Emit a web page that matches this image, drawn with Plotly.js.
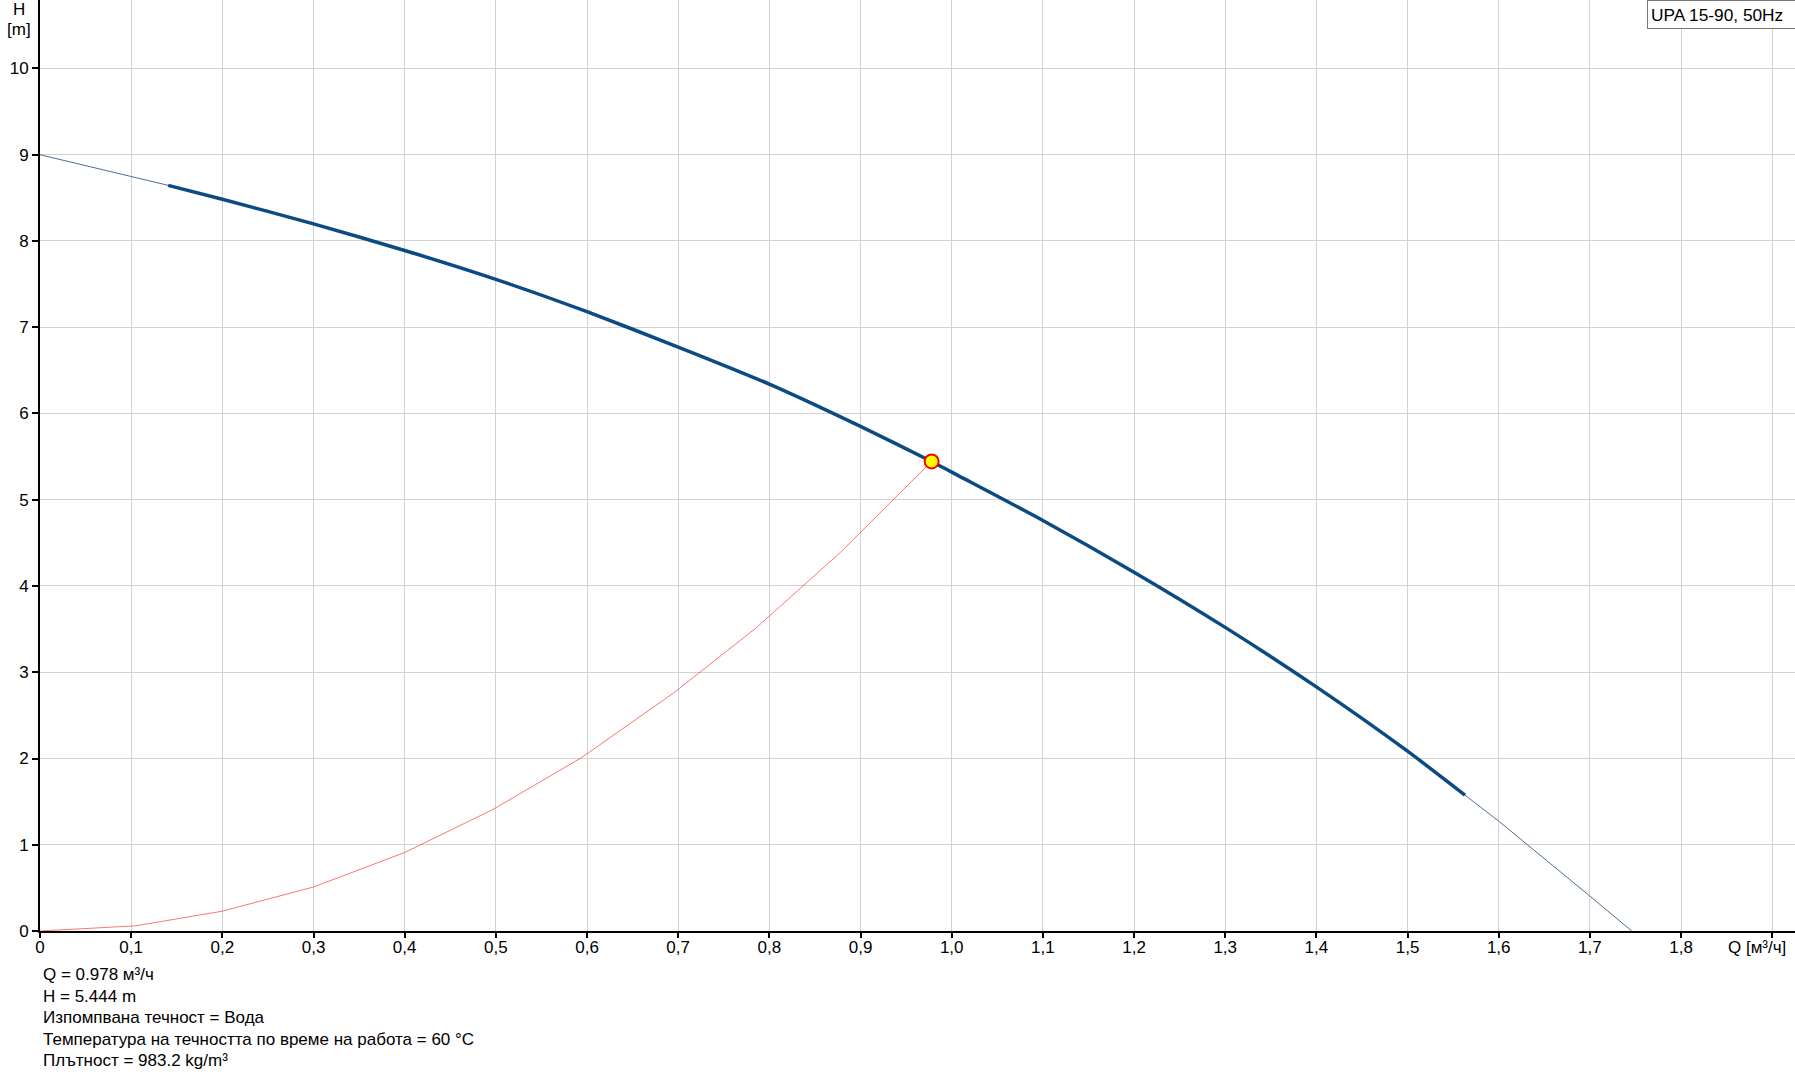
<!DOCTYPE html>
<html>
<head>
<meta charset="utf-8">
<script src="https://cdn.plot.ly/plotly-3.0.1.min.js"></script>
<style>
  html, body { margin: 0; padding: 0; background: #fff; }
  #chart { width: 1795px; height: 1081px; }
</style>
</head>
<body>
<div id="chart"></div>
<script>
// ---- Data ----
// Pump curve (thin start part)
const pumpStartQ = [0, 0.1, 0.1406];
const pumpStartH = [9.0, 8.75, 8.645];
// Pump curve (thick working range)
const pumpQ = [0.1406, 0.2, 0.3, 0.4, 0.5, 0.6, 0.7, 0.8, 0.9, 0.978, 1.0, 1.1, 1.2, 1.3, 1.4, 1.5, 1.563];
const pumpH = [8.645, 8.484, 8.198, 7.89, 7.555, 7.18, 6.77, 6.34, 5.85, 5.444, 5.32, 4.76, 4.16, 3.52, 2.83, 2.085, 1.575];
// Pump curve (thin end part)
const pumpEndQ = [1.563, 1.6, 1.7, 1.746];
const pumpEndH = [1.575, 1.274, 0.405, 0];
// System curve
const sysQ = [0, 0.105, 0.2, 0.3, 0.4, 0.497, 0.594, 0.695, 0.785, 0.878, 0.978];
const sysH = [0, 0.06, 0.23, 0.51, 0.91, 1.41, 2.01, 2.76, 3.51, 4.39, 5.444];
// Operating point
const opQ = [0.978];
const opH = [5.444];

// Ticks
const xTickVals = [0, 0.1, 0.2, 0.3, 0.4, 0.5, 0.6, 0.7, 0.8, 0.9, 1.0, 1.1, 1.2, 1.3, 1.4, 1.5, 1.6, 1.7, 1.8, 1.9];
const xTickLabels = ['0', '0,1', '0,2', '0,3', '0,4', '0,5', '0,6', '0,7', '0,8', '0,9', '1,0', '1,1', '1,2', '1,3', '1,4', '1,5', '1,6', '1,7', '1,8', ''];
const xAxisLabel = 'Q [м³/ч]';   // drawn at the 1.9 tick position
const yTickVals = [0, 1, 2, 3, 4, 5, 6, 7, 8, 9, 10];
const yTickLabels = ['0', '1', '2', '3', '4', '5', '6', '7', '8', '9', '10'];

const legendText = 'UPA 15-90, 50Hz';
const yAxisLabel = ['H', '[m]'];
const infoLines = [
  'Q = 0.978 м³/ч',
  'H = 5.444 m',
  'Изпомпвана течност = Вода',
  'Температура на течността по време на работа = 60 °C',
  'Плътност = 983.2 kg/m³'
];

// ---- Chart ----
const FONT = 'Liberation Sans, Arial, sans-serif';
const FS = 17;
const plotBottom = 931.5; // px from top of page
const infoY = [975, 996.5, 1018, 1039.5, 1061];

const traces = [
  { x: sysQ, y: sysH, mode: 'lines', line: { color: 'rgba(255,40,40,0.65)', width: 1 }, hoverinfo: 'skip', showlegend: false },
  { x: pumpStartQ, y: pumpStartH, mode: 'lines', line: { color: '#4d6d96', width: 1 }, hoverinfo: 'skip', showlegend: false },
  { x: pumpEndQ, y: pumpEndH, mode: 'lines', line: { color: '#4d6d96', width: 1 }, hoverinfo: 'skip', showlegend: false },
  { x: pumpQ, y: pumpH, mode: 'lines', line: { color: '#0c4a82', width: 3.5, shape: 'spline', smoothing: 0.6 }, hoverinfo: 'skip', showlegend: false },
  { x: opQ, y: opH, mode: 'markers', marker: { color: '#ffff00', size: 14, line: { color: '#ff0000', width: 2 } }, hoverinfo: 'skip', showlegend: false }
];

const annotations = [];
annotations.push({
  xref: 'paper', yref: 'paper', x: 1, y: 1, xanchor: 'right', yanchor: 'top',
  text: legendText, showarrow: false, align: 'left', width: 141, height: 21, valign: 'middle',
  font: { family: FONT, size: 17.3, color: '#000' },
  bgcolor: '#ffffff', bordercolor: '#777777', borderwidth: 1, borderpad: 3, xshift: 1, yshift: 0
});
annotations.push({
  xref: 'paper', yref: 'paper', x: 0, y: 1, xanchor: 'center', yanchor: 'middle',
  xshift: -21, yshift: -9, text: yAxisLabel[0], showarrow: false,
  font: { family: FONT, size: FS, color: '#000' }
});
annotations.push({
  xref: 'paper', yref: 'paper', x: 0, y: 1, xanchor: 'center', yanchor: 'middle',
  xshift: -21, yshift: -29.5, text: yAxisLabel[1], showarrow: false,
  font: { family: FONT, size: FS, color: '#000' }
});
annotations.push({
  xref: 'x', yref: 'paper', x: xTickVals[xTickVals.length - 1], y: 0, xanchor: 'center', yanchor: 'middle',
  xshift: -15, yshift: -(948 - plotBottom), text: xAxisLabel, showarrow: false,
  font: { family: FONT, size: FS, color: '#000' }
});
infoLines.forEach((t, i) => {
  annotations.push({
    xref: 'paper', yref: 'paper', x: 0, y: 0, xanchor: 'left', yanchor: 'middle',
    xshift: 1, yshift: -(infoY[i] - plotBottom), text: t, showarrow: false,
    font: { family: FONT, size: FS, color: '#000' }
  });
});

const layout = {
  width: 1795, height: 1081,
  margin: { l: 40, r: 0, t: 0, b: 1081 - plotBottom, pad: 0 },
  paper_bgcolor: '#ffffff', plot_bgcolor: '#ffffff',
  font: { family: FONT, size: FS, color: '#000' },
  xaxis: {
    range: [0, 1.925], tickmode: 'array', tickvals: xTickVals, ticktext: xTickLabels,
    showgrid: true, gridcolor: '#d2d2d2', gridwidth: 1, zeroline: false,
    showline: true, linecolor: '#000', linewidth: 2,
    ticks: 'outside', ticklen: 5, tickwidth: 2, tickcolor: '#000',
    ticklabelstandoff: -5,
    tickfont: { family: FONT, size: FS, color: '#000' }, fixedrange: true
  },
  yaxis: {
    range: [0, 10.794], tickmode: 'array', tickvals: yTickVals, ticktext: yTickLabels,
    showgrid: true, gridcolor: '#d2d2d2', gridwidth: 1, zeroline: false,
    showline: true, linecolor: '#000', linewidth: 2,
    ticks: 'outside', ticklen: 6, tickwidth: 2, tickcolor: '#000',
    tickfont: { family: FONT, size: FS, color: '#000' }, fixedrange: true
  },
  annotations: annotations,
  showlegend: false
};

Plotly.newPlot('chart', traces, layout, { staticPlot: true, displayModeBar: false });
</script>
</body>
</html>
